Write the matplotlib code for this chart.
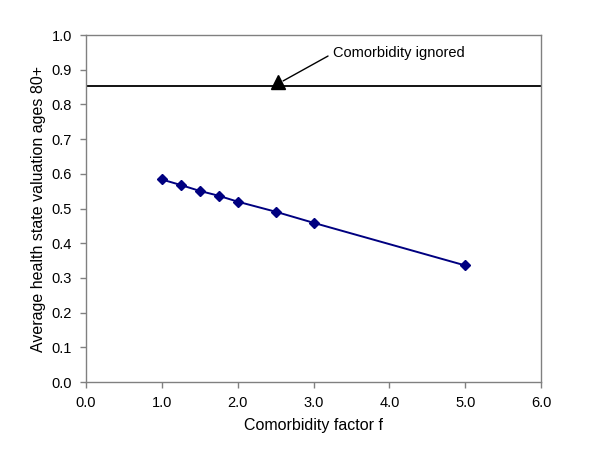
import matplotlib
matplotlib.use("Agg")
import matplotlib.pyplot as plt

plt.rcParams["font.family"] = ["Liberation Sans", "DejaVu Sans"]

# Comorbidity factor vs average health state valuation (ages 80+)
comorbidity_f = [1.0, 1.25, 1.5, 1.75, 2.0, 2.5, 3.0, 5.0]
valuation = [0.584, 0.568, 0.551, 0.537, 0.520, 0.491, 0.459, 0.336]

ignored_level = 0.853
ignored_marker_x = 2.53
ignored_label = "Comorbidity ignored"

x_ticks = [0, 1, 2, 3, 4, 5, 6]
y_ticks = [0.0, 0.1, 0.2, 0.3, 0.4, 0.5, 0.6, 0.7, 0.8, 0.9, 1.0]

GRAY = "#808080"
NAVY = "#000080"

fig = plt.figure(figsize=(6, 4.5), dpi=100)
ax = fig.add_axes([0.143, 0.151, 0.759, 0.771])

ax.axhline(ignored_level, color="black", linewidth=1.3)
ax.plot([ignored_marker_x], [ignored_level + 0.013], marker="^",
        color="black", markersize=10, linestyle="none")
ax.annotate(ignored_label, xy=(2.60, 0.868), xytext=(3.26, 0.948),
            fontsize=10.5, va="center", ha="left",
            arrowprops=dict(arrowstyle="-", color="black", lw=1.0,
                            relpos=(0, 0.5), shrinkA=2, shrinkB=0))

ax.plot(comorbidity_f, valuation, color=NAVY, linewidth=1.4,
        marker="D", markersize=5.5, markerfacecolor=NAVY,
        markeredgecolor=NAVY)

ax.set_xlim(0, 6)
ax.set_ylim(0, 1)
ax.set_xticks(x_ticks)
ax.set_xticklabels([f"{v:.1f}" for v in x_ticks])
ax.set_yticks(y_ticks)
ax.set_yticklabels([f"{v:.1f}" for v in y_ticks])

for s in ax.spines.values():
    s.set_color(GRAY)
    s.set_linewidth(1.0)
ax.tick_params(direction="out", length=4, color=GRAY, width=1.0,
               labelsize=10.5, pad=6)

ax.set_xlabel("Comorbidity factor f", fontsize=11.5, labelpad=6)
ax.set_ylabel("Average health state valuation ages 80+", fontsize=11.5,
              labelpad=4)

fig.savefig("out.png", dpi=100)
